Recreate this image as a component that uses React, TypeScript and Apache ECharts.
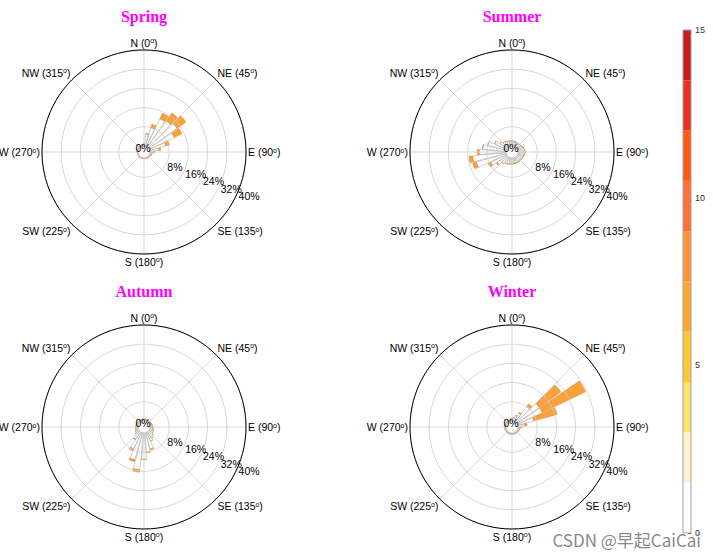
import React, { useEffect, useRef } from 'react';
import * as echarts from 'echarts';

// ---------------- data ----------------
const seasons = ['Spring', 'Summer', 'Autumn', 'Winter'];

// direction bins (degrees, clockwise from north)
const bearings = [0, 10, 20, 30, 40, 50, 60, 70, 80, 90, 100, 110, 120, 130, 140, 150, 160, 170,
  180, 190, 200, 210, 220, 230, 240, 250, 260, 270, 280, 290, 300, 310, 320, 330, 340, 350];

const compassLabels: Record<number, string> = {
  0: 'N (0{s|o})', 45: 'NE (45{s|o})', 90: 'E (90{s|o})', 135: 'SE (135{s|o})',
  180: 'S (180{s|o})', 225: 'SW (225{s|o})', 270: 'W (270{s|o})', 315: 'NW (315{s|o})',
};

// frequency (%) of low-speed part (white) and high-speed part (orange) for each direction
const springLow = [1.0, 5.0, 8.0, 12.9, 13.5, 14.5, 11.5, 6.9, 3.7, 1.8, 1.0, 0.8, 0.6, 0.5, 0.4, 0.4, 0.3, 0.3,
  0.3, 0.3, 0.3, 0.3, 0.3, 0.3, 0.3, 0.3, 0.3, 0.3, 0.3, 0.3, 0.3, 0.3, 0.4, 0.4, 0.5, 0.6];
const springHigh = [0, 0.4, 1.5, 2.5, 4.0, 4.5, 3.5, 1.6, 0.8, 0.2, 0, 0, 0, 0, 0, 0, 0, 0,
  0, 0, 0, 0, 0, 0, 0, 0, 0, 0, 0, 0, 0, 0, 0, 0, 0, 0];

const summerLow = [2.2, 2.0, 2.0, 1.8, 1.8, 2.0, 2.2, 2.5, 2.8, 3.0, 2.8, 2.6, 2.5, 2.4, 2.4, 2.3, 2.3, 2.4,
  2.5, 2.6, 2.8, 3.0, 3.5, 5.0, 7.3, 13.0, 14.0, 11.2, 9.8, 8.0, 5.5, 3.5, 2.8, 2.5, 2.3, 2.2];
const summerHigh = [0, 0, 0, 0, 0, 0, 0, 0, 0, 0, 0, 0, 0, 0, 0, 0, 0, 0,
  0, 0, 0, 0, 0, 0.5, 1.2, 1.5, 1.5, 0.8, 0, 0, 0, 0, 0, 0, 0, 0];

const autumnLow = [0.8, 0.8, 0.7, 0.7, 0.7, 0.8, 0.8, 0.9, 1.0, 1.2, 1.3, 1.5, 1.8, 2.3, 3.0, 4.0, 7.0, 8.0,
  11.0, 15.4, 11.7, 7.7, 3.7, 2.0, 1.5, 1.2, 1.0, 1.0, 0.9, 0.9, 0.8, 0.8, 0.8, 0.8, 0.8, 0.8];
const autumnHigh = [0, 0, 0, 0, 0, 0, 0, 0, 0, 0, 0, 0, 0, 0, 0, 0, 0.3, 0.3,
  0, 1.0, 0.8, 0.8, 0.3, 0, 0, 0, 0, 0, 0, 0, 0, 0, 0, 0, 0, 0];

const winterLow = [1.0, 1.5, 2.5, 4.0, 8.0, 11.5, 11.5, 7.0, 2.8, 1.5, 1.0, 0.8, 0.6, 0.5, 0.5, 0.5, 0.5, 0.5,
  0.5, 0.5, 0.5, 0.5, 0.5, 0.5, 0.5, 0.5, 0.5, 0.5, 0.5, 0.5, 0.5, 0.5, 0.5, 0.5, 0.6, 0.8];
const winterHigh = [0, 0, 0, 0.3, 1.4, 11.0, 20.0, 10.0, 1.0, 0, 0, 0, 0, 0, 0, 0, 0, 0,
  0, 0, 0, 0, 0, 0, 0, 0, 0, 0, 0, 0, 0, 0, 0, 0, 0, 0];

const seasonLow = [springLow, summerLow, autumnLow, winterLow];
const seasonHigh = [springHigh, summerHigh, autumnHigh, winterHigh];

// radial axis (frequency %): rings every 8 %, up to 40 %
const radiusMax = 40;
const radiusStep = 8;

// colour bar (wind speed)
const colorbarEdges = [0, 1.5, 3, 4.5, 6, 7.5, 9, 10.5, 12, 13.5, 15];
const colorbarColors = ['#ffffff', '#fff3cf', '#ffe36b', '#fdca36', '#ffab30', '#ff9535',
  '#ff7038', '#ff5a10', '#e8302a', '#c81e1a'];

// ---------------- layout / style ----------------
const ROSE_CENTERS: [number, number][] = [[144, 152], [512, 152], [144, 427], [512, 427]];
const R_IN = 6;
const R_OUT = 102;
const PX_PER_PCT = (R_OUT - R_IN) / radiusMax;
const LOW_COLOR = '#ffffff';
const HIGH_COLOR = '#f9a13a';
const GRID_COLOR = '#cdcdcd';
const SANS = '"Liberation Sans", Arial, sans-serif';
const SERIF = '"Liberation Serif", "Times New Roman", serif';
const LABEL_ANGLE = -22;
const FS = 10.5;

const hidden = {
  axisLine: { show: false }, axisTick: { show: false }, axisLabel: { show: false }, splitLine: { show: false },
};

function buildOption(): any {
  const polar: any[] = [];
  const angleAxis: any[] = [];
  const radiusAxis: any[] = [];
  const series: any[] = [];
  const title: any[] = [];
  const graphic: any[] = [];

  const radialLabel = {
    show: true, interval: 0, margin: 0, align: 'left', verticalAlign: 'top', fontSize: FS, color: '#000',
    fontFamily: SANS, showMinLabel: true, showMaxLabel: true, hideOverlap: false,
    formatter: (v: number) => (v === 0 ? '' : `${v}%`),
  };

  seasons.forEach((name, k) => {
    const [cx, cy] = ROSE_CENTERS[k];
    const base = polar.length;
    const g = base;       // grid
    const b = base + 1;   // bars
    const la = base + 2;  // radial labels 16 %, 32 %
    const lb = base + 3;  // radial labels 8 %, 24 %, 40 %
    const f = base + 4;   // outer frame + compass labels
    polar.push({ center: [cx, cy], radius: [R_IN, R_OUT] });
    polar.push({ center: [cx, cy], radius: [R_IN, R_OUT] });
    polar.push({ center: [cx, cy], radius: [R_IN, R_IN + 32 * PX_PER_PCT] });
    polar.push({ center: [cx, cy], radius: [R_IN + 8 * PX_PER_PCT, R_OUT] });
    polar.push({ center: [cx, cy], radius: [0, R_OUT] });

    // grid polar
    angleAxis.push({
      polarIndex: g, type: 'value', min: 0, max: 360, interval: 45, startAngle: 90, clockwise: true, z: 5,
      axisLine: { show: false }, axisTick: { show: false }, axisLabel: { show: false },
      splitLine: { show: true, lineStyle: { color: GRID_COLOR, width: 0.8 } },
    });
    radiusAxis.push({
      polarIndex: g, type: 'value', min: 0, max: radiusMax, interval: radiusStep, z: 5,
      axisLine: { show: false }, axisTick: { show: false }, axisLabel: { show: false },
      splitLine: { show: true, lineStyle: { color: GRID_COLOR, width: 0.8 } },
    });

    // bar polar
    angleAxis.push({
      polarIndex: b, type: 'category', data: bearings.map(String), startAngle: 95, clockwise: true,
      boundaryGap: true, ...hidden,
    });
    radiusAxis.push({ polarIndex: b, type: 'value', min: 0, max: radiusMax, ...hidden });

    // radial labels, part A: 0, 16, 32
    angleAxis.push({ polarIndex: la, type: 'value', min: 0, max: 360, startAngle: LABEL_ANGLE, clockwise: true, ...hidden });
    radiusAxis.push({
      polarIndex: la, type: 'value', min: 0, max: 32, interval: 16, z: 6,
      axisLine: { show: false }, axisTick: { show: false }, splitLine: { show: false }, axisLabel: radialLabel,
    });
    // radial labels, part B: 8, 24, 40
    angleAxis.push({ polarIndex: lb, type: 'value', min: 0, max: 360, startAngle: LABEL_ANGLE, clockwise: true, ...hidden });
    radiusAxis.push({
      polarIndex: lb, type: 'value', min: 8, max: radiusMax, interval: 16, z: 6,
      axisLine: { show: false }, axisTick: { show: false }, splitLine: { show: false }, axisLabel: radialLabel,
    });

    // frame polar: black outer circle + compass labels
    angleAxis.push({
      polarIndex: f, type: 'value', min: 0, max: 360, interval: 45, startAngle: 90, clockwise: true, z: 6,
      axisLine: { show: true, lineStyle: { color: '#000', width: 1 } },
      axisTick: { show: false },
      splitLine: { show: false },
      axisLabel: {
        show: true, margin: 2, fontSize: FS, color: '#000', fontFamily: SANS,
        formatter: (v: number) => (v >= 360 ? '' : compassLabels[v] || ''),
        rich: { s: { fontSize: 7, fontFamily: SANS, color: '#000', verticalAlign: 'top', lineHeight: 3 } },
      },
    });
    radiusAxis.push({ polarIndex: f, type: 'value', min: 0, max: radiusMax, ...hidden });

    series.push({
      type: 'bar', coordinateSystem: 'polar', polarIndex: b, stack: `rose${k}`, name: `${name}-low`,
      data: seasonLow[k], barCategoryGap: '12%', z: 2, silent: true,
      itemStyle: { color: LOW_COLOR, borderColor: '#9a9a9a', borderWidth: 0.5 },
    });
    series.push({
      type: 'bar', coordinateSystem: 'polar', polarIndex: b, stack: `rose${k}`, name: `${name}-high`,
      data: seasonHigh[k], barCategoryGap: '12%', z: 2, silent: true,
      itemStyle: { color: HIGH_COLOR, borderColor: '#d9861f', borderWidth: 0.5 },
    });

    title.push({
      text: name, left: cx, top: cy - 144, textAlign: 'center', padding: 0,
      textStyle: { fontFamily: SERIF, fontWeight: 'bold', fontSize: 16, color: '#ff00ff' },
    });

    graphic.push({
      type: 'text', x: cx - 1, y: cy - 4, z: 10,
      style: { text: '0%', fontSize: FS, fontFamily: SANS, fill: '#000', textAlign: 'center', textVerticalAlign: 'middle', align: 'center', verticalAlign: 'middle' },
    });
  });

  // colour bar
  colorbarColors.forEach((c, i) => {
    series.push({
      type: 'bar', xAxisIndex: 0, yAxisIndex: 0, stack: 'colorbar', barWidth: '100%', silent: true,
      name: `cb${i}`, data: [colorbarEdges[i + 1] - colorbarEdges[i]], itemStyle: { color: c },
    });
  });

  graphic.push({
    type: 'text', right: 12, bottom: 8, z: 20,
    style: { text: 'CSDN @早起CaiCai', fontSize: 17, fontFamily: '"Noto Sans CJK SC", "Noto Sans", sans-serif', fill: '#8a8a8a' },
  });

  return {
    animation: false,
    backgroundColor: '#ffffff',
    title,
    polar,
    angleAxis,
    radiusAxis,
    grid: [{ left: 683, top: 30, width: 8, height: 503, show: true, borderColor: '#a0a0a0', borderWidth: 1, backgroundColor: 'transparent', z: 3 }],
    xAxis: [{ type: 'category', data: ['speed'], show: false, gridIndex: 0 }],
    yAxis: [{
      type: 'value', gridIndex: 0, min: 0, max: 15, interval: 5, position: 'right',
      axisLine: { show: false }, splitLine: { show: false },
      axisTick: { show: true, inside: true, length: 3, lineStyle: { color: '#333' } },
      axisLabel: { fontSize: 9, color: '#333', margin: 4, fontFamily: SANS },
    }],
    series,
    graphic,
  };
}

export default function App() {
  const ref = useRef<HTMLDivElement>(null);
  useEffect(() => {
    if (!ref.current) return;
    const chart = echarts.init(ref.current, null, { renderer: 'svg' });
    chart.setOption(buildOption());
    return () => chart.dispose();
  }, []);
  return (
    <div
      ref={ref}
      style={{ position: 'fixed', left: 0, top: 0, width: 713, height: 556, background: '#ffffff' }}
    />
  );
}
